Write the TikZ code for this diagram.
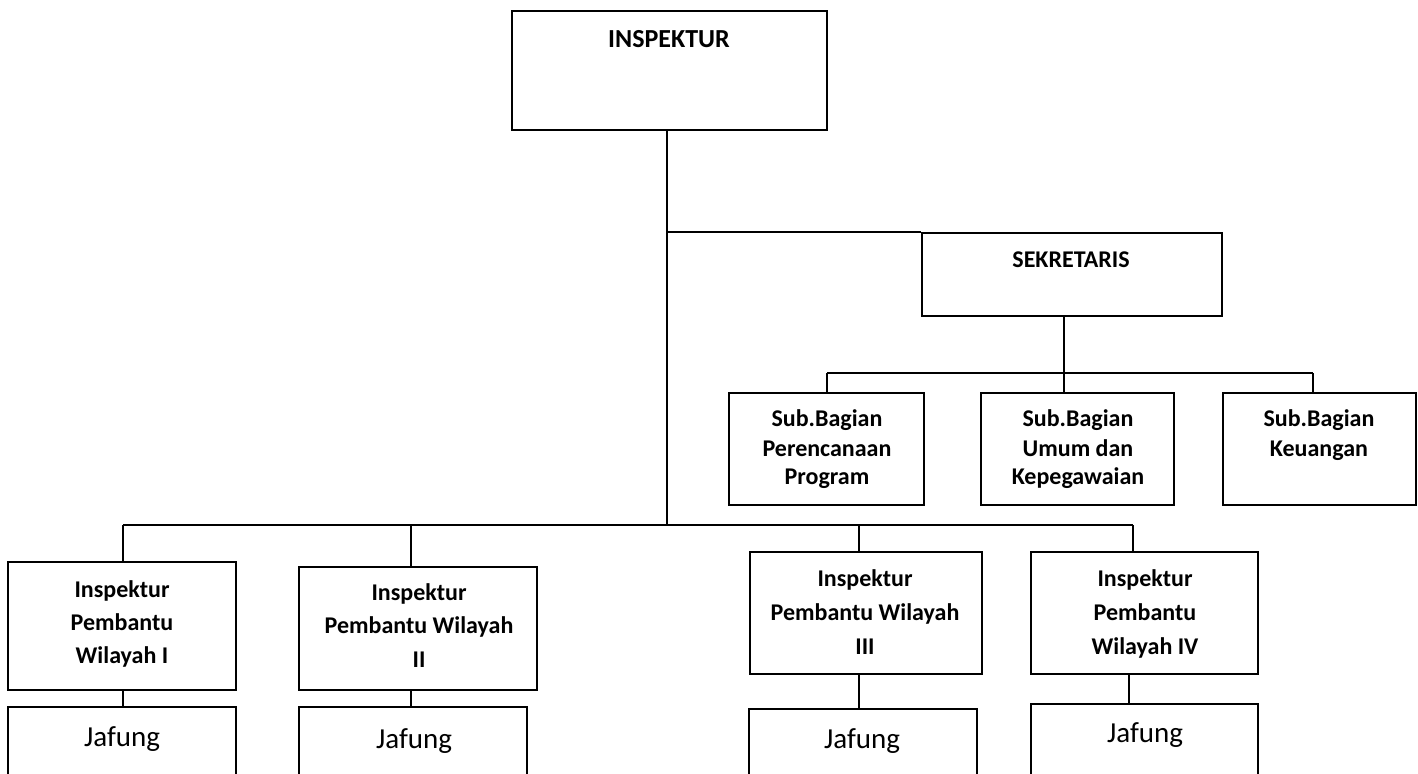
\documentclass[tikz,border=0pt]{standalone}
\usepackage{fontspec}
\setmainfont{Carlito}
\begin{document}
\begin{tikzpicture}[x=0.5pt,y=-0.5pt,
  box/.style={draw, line width=1pt, inner sep=0pt, rectangle},
  conn/.style={line width=1pt},
  bt/.style={font=\bfseries\fontsize{12}{14}\selectfont, anchor=base, inner sep=0pt},
  jt/.style={font=\fontsize{14.5}{17}\selectfont, anchor=base, inner sep=0pt}]
\clip (0,0) rectangle (1418,773);
% boxes
\node[box, minimum width=157.5pt, minimum height=59.5pt] (insp) at (669.5,70.5) {};
\node[box, minimum width=150pt, minimum height=41.5pt] (sek) at (1072,274.5) {};
\node[box, minimum width=97.5pt, minimum height=56pt] (sub1) at (826.5,449) {};
\node[box, minimum width=96.5pt, minimum height=56pt] (sub2) at (1077.5,449) {};
\node[box, minimum width=96.5pt, minimum height=56pt] (sub3) at (1319.5,449) {};
\node[box, minimum width=114pt, minimum height=64pt] (ipw1) at (122,626) {};
\node[box, minimum width=119pt, minimum height=61.5pt] (ipw2) at (418,628.5) {};
\node[box, minimum width=116pt, minimum height=61pt] (ipw3) at (866,613) {};
\node[box, minimum width=113.5pt, minimum height=61pt] (ipw4) at (1144.5,613) {};
\node[box, minimum width=114pt, minimum height=50pt] (j1) at (122,757) {};
\node[box, minimum width=114pt, minimum height=50pt] (j2) at (413,757) {};
\node[box, minimum width=114pt, minimum height=50pt] (j3) at (863,759) {};
\node[box, minimum width=113.5pt, minimum height=50pt] (j4) at (1144.5,754) {};
% texts
\node[bt, font=\bfseries\fontsize{13}{15}\selectfont] (tinsp) at (669,47) {INSPEKTUR};
\node[bt] (tsek) at (1071,267) {SEKRETARIS};
\node[bt] (s1a) at (827,426) {Sub.Bagian};
\node[bt] (s1b) at (827,456) {Perencanaan};
\node[bt] (s1c) at (827,484) {Program};
\node[bt] (s2a) at (1078,426) {Sub.Bagian};
\node[bt] (s2b) at (1078,456) {Umum dan};
\node[bt] (s2c) at (1078,484) {Kepegawaian};
\node[bt] (s3a) at (1319,426) {Sub.Bagian};
\node[bt] (s3b) at (1319,456) {Keuangan};
\node[bt] (p1a) at (122,597) {Inspektur};
\node[bt] (p1b) at (122,630) {Pembantu};
\node[bt] (p1c) at (122,663) {Wilayah I};
\node[bt] (p2a) at (419,600) {Inspektur};
\node[bt] (p2b) at (419,633) {Pembantu Wilayah};
\node[bt] (p2c) at (419,667) {II};
\node[bt] (p3a) at (865,586) {Inspektur};
\node[bt] (p3b) at (865,620) {Pembantu Wilayah};
\node[bt] (p3c) at (865,654) {III};
\node[bt] (p4a) at (1145,586) {Inspektur};
\node[bt] (p4b) at (1145,620) {Pembantu};
\node[bt] (p4c) at (1145,654) {Wilayah IV};
\node[jt] (tj1) at (122,746) {Jafung};
\node[jt] (tj2) at (414,748) {Jafung};
\node[jt] (tj3) at (862,748) {Jafung};
\node[jt] (tj4) at (1145,742) {Jafung};
% junctions
\coordinate (sj1) at (827,373);
\coordinate (sj2) at (1064,373);
\coordinate (sj3) at (1313,373);
\coordinate (mj0) at (667,525);
\coordinate (mj1) at (123,525);
\coordinate (mj2) at (411,525);
\coordinate (mj3) at (859,525);
\coordinate (mj4) at (1133,525);
% connectors
\draw[conn] (mj0 |- insp.south) -- (mj0);
\draw[conn] (mj0 |- sek.north) -- (sek.north west);
\draw[conn] (sj2 |- sek.south) -- (sj2);
\draw[conn] (sj1) -- (sj3);
\draw[conn] (sj1) -- (sj1 |- sub1.north);
\draw[conn] (sj2) -- (sj2 |- sub2.north);
\draw[conn] (sj3) -- (sj3 |- sub3.north);
\draw[conn] (mj1) -- (mj4);
\draw[conn] (mj1) -- (mj1 |- ipw1.north);
\draw[conn] (mj2) -- (mj2 |- ipw2.north);
\draw[conn] (mj3) -- (mj3 |- ipw3.north);
\draw[conn] (mj4) -- (mj4 |- ipw4.north);
\draw[conn] (mj1 |- ipw1.south) -- (mj1 |- j1.north);
\draw[conn] (mj2 |- ipw2.south) -- (mj2 |- j2.north);
\draw[conn] (mj3 |- ipw3.south) -- (mj3 |- j3.north);
\draw[conn] ([xshift=-2pt]mj4 |- ipw4.south) -- ([xshift=-2pt]mj4 |- j4.north);
\end{tikzpicture}
\end{document}
